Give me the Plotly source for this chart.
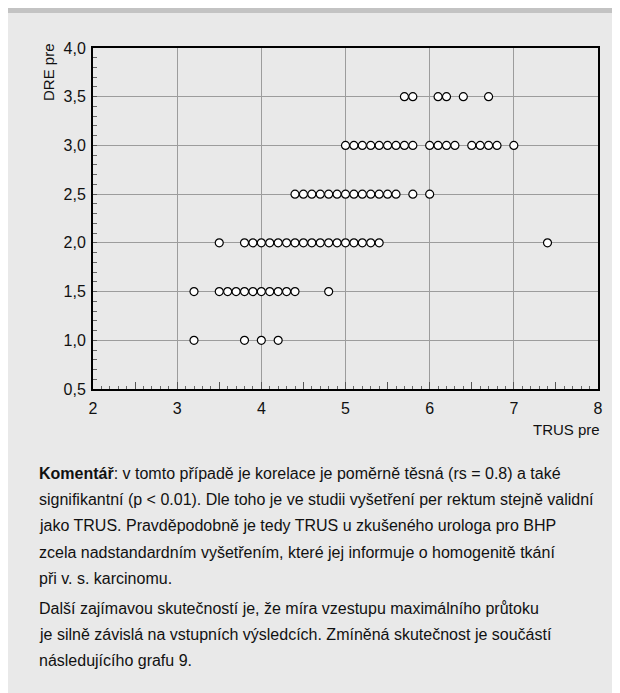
import plotly.graph_objects as go

# ---- data (TRUS pre values observed at each DRE pre level) ----
trus_dre_1_0 = [3.2, 3.8, 4.0, 4.2]
trus_dre_1_5 = [3.2, 3.5, 3.6, 3.7, 3.8, 3.9, 4.0, 4.1, 4.2, 4.3, 4.4, 4.8]
trus_dre_2_0 = [3.5, 3.8, 3.9, 4.0, 4.1, 4.2, 4.3, 4.4, 4.5, 4.6, 4.7, 4.8, 4.9,
                5.0, 5.1, 5.2, 5.3, 5.4, 7.4]
trus_dre_2_5 = [4.4, 4.5, 4.6, 4.7, 4.8, 4.9, 5.0, 5.1, 5.2, 5.3, 5.4, 5.5, 5.6,
                5.8, 6.0]
trus_dre_3_0 = [5.0, 5.1, 5.2, 5.3, 5.4, 5.5, 5.6, 5.7, 5.8, 6.0, 6.1, 6.2, 6.3,
                6.5, 6.6, 6.7, 6.8, 7.0]
trus_dre_3_5 = [5.7, 5.8, 6.1, 6.2, 6.4, 6.7]

dre_levels = [1.0, 1.5, 2.0, 2.5, 3.0, 3.5]
trus_rows = [trus_dre_1_0, trus_dre_1_5, trus_dre_2_0, trus_dre_2_5,
             trus_dre_3_0, trus_dre_3_5]

x_title = "TRUS pre"
y_title = "DRE pre"

x_major_ticks = [2, 3, 4, 5, 6, 7, 8]
x_half_ticks = [2.5, 3.5, 4.5, 5.5, 6.5, 7.5]

text_lines = [
    "<b>Komentář</b>: v tomto případě je korelace je poměrně těsná (rs = 0.8) a také",
    "signifikantní (p < 0.01). Dle toho je ve studii vyšetření per rektum stejně validní",
    "jako TRUS. Pravděpodobně je tedy TRUS u zkušeného urologa pro BHP",
    "zcela nadstandardním vyšetřením, které jej informuje o homogenitě tkání",
    "při v. s. karcinomu.",
    "Další zajímavou skutečností je, že míra vzestupu maximálního průtoku",
    "je silně závislá na vstupních výsledcích. Zmíněná skutečnost je součástí",
    "následujícího grafu 9.",
]
text_line_px = [472, 498, 524, 551, 577, 607, 633, 659]

# ---- geometry (page pixels; the page body adds an 8px margin) ----
OFF = 8
W, H = 620 - OFF, 693 - OFF
PL, PR, PT, PB = 93, 598, 48, 389   # plot area edges in page pixels


def px_x(px):
    return (px - PL) / (PR - PL)


def px_y(py):
    return (PB - py) / (PB - PT)


xs, ys = [], []
for lvl, row in zip(dre_levels, trus_rows):
    xs += row
    ys += [lvl] * len(row)

fig = go.Figure()
fig.add_trace(go.Scatter(
    x=xs, y=ys, mode="markers",
    marker=dict(size=8, color="white", line=dict(color="black", width=1.2)),
    showlegend=False, hoverinfo="x+y",
))
# empty helper trace so the overlay axis carrying the half-unit ticks is drawn
fig.add_trace(go.Scatter(x=[], y=[], xaxis="x2", showlegend=False))

SANS = "Liberation Sans, Arial, Helvetica, sans-serif"
tick_font = dict(family=SANS, size=16, color="#111")

fig.update_layout(
    width=W, height=H,
    margin=dict(l=PL - OFF, r=(W + OFF) - PR, t=PT - OFF, b=(H + OFF) - PB, pad=0),
    paper_bgcolor="white",
    plot_bgcolor="#e9e9e9",
    separators=", ",
    xaxis=dict(
        range=[2, 8], tickvals=x_major_ticks, showgrid=True,
        gridcolor="#9c9c9c", gridwidth=1,
        showline=True, linecolor="black", linewidth=2, mirror=True,
        ticks="inside", ticklen=7, tickcolor="#555", tickwidth=1,
        minor=dict(dtick=0.1, ticks="inside", ticklen=3, tickcolor="#666",
                   showgrid=False),
        tickfont=tick_font, ticklabelstandoff=4, zeroline=False,
    ),
    xaxis2=dict(
        range=[2, 8], overlaying="x", anchor="y", side="bottom",
        tickvals=x_half_ticks, ticks="inside", ticklen=7, tickcolor="#555",
        showticklabels=False, showgrid=False, showline=False, zeroline=False,
    ),
    yaxis=dict(
        range=[0.5, 4.0], tick0=0.5, dtick=0.5, tickformat=".1f",
        showgrid=True, gridcolor="#9c9c9c", gridwidth=1,
        showline=True, linecolor="black", linewidth=2, mirror=True,
        ticks="inside", ticklen=4, tickcolor="#555",
        minor=dict(dtick=0.1, ticks="inside", ticklen=4, tickcolor="#666",
                   showgrid=False),
        tickfont=tick_font, ticklabelstandoff=2, zeroline=False,
    ),
    font=dict(family=SANS, color="#111"),
)

# background panel and top band
fig.add_shape(type="rect", xref="paper", yref="paper",
              x0=px_x(OFF), x1=px_x(621), y0=px_y(694), y1=px_y(13),
              fillcolor="#e9e9e9", line=dict(width=0), layer="below")
fig.add_shape(type="rect", xref="paper", yref="paper",
              x0=px_x(OFF), x1=px_x(621), y0=px_y(13), y1=px_y(OFF),
              fillcolor="#c3c3c3", line=dict(width=0), layer="below")

# axis titles
fig.add_annotation(text=y_title, xref="paper", yref="paper",
                   x=px_x(48), y=px_y(72), xanchor="center", yanchor="middle",
                   textangle=-90, showarrow=False,
                   font=dict(family=SANS, size=15, color="#111"))
fig.add_annotation(text=x_title, xref="paper", yref="paper",
                   x=px_x(602), y=px_y(430), xanchor="right", yanchor="middle",
                   showarrow=False,
                   font=dict(family=SANS, size=15, color="#111"))

# commentary text
for line, py in zip(text_lines, text_line_px):
    fig.add_annotation(text=line, xref="paper", yref="paper",
                       x=px_x(37), y=px_y(py + 1), xanchor="left", yanchor="middle",
                       showarrow=False, align="left",
                       font=dict(family=SANS, size=16, color="#111"))

fig.write_html("out.html")
